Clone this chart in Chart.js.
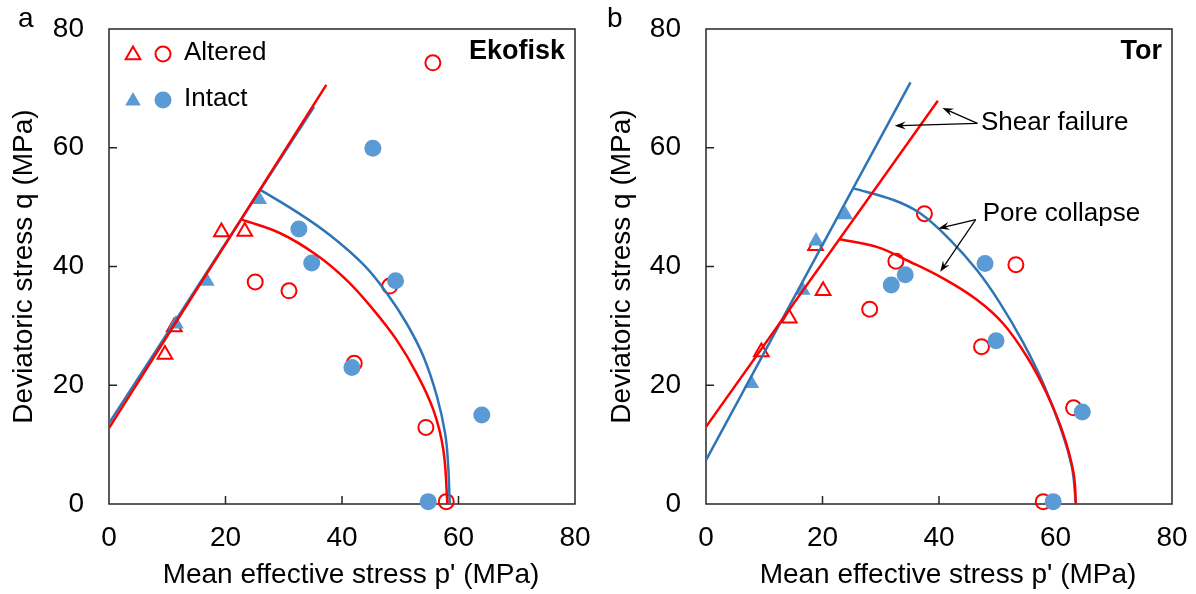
<!DOCTYPE html>
<html>
<head>
<meta charset="utf-8">
<script src="https://cdn.jsdelivr.net/npm/chart.js@4.4.0/dist/chart.umd.min.js"></script>
<style>
  body { margin: 0; background: #fff; }
  #wrap { position: relative; width: 1196px; height: 594px; }
  canvas { position: absolute; top: 0; }
</style>
</head>
<body>
<div id="wrap">
  <canvas id="ekofisk" width="598" height="594" style="left:0"></canvas>
  <canvas id="tor" width="598" height="594" style="left:598px"></canvas>
</div>
<script>
// Ekofisk chalk - mean effective stress p' / deviatoric stress q (MPa)
const ekoAltTriP = [9.6, 11.2, 19.3, 23.3];
const ekoAltTriQ = [25.2, 29.8, 45.8, 45.9];
const ekoAltCircP = [55.6, 25.1, 30.9, 48.2, 42.1, 54.4, 57.9];
const ekoAltCircQ = [74.3, 37.4, 35.9, 36.7, 23.7, 12.9, 0.4];
const ekoIntTriP = [11.5, 16.8, 25.8];
const ekoIntTriQ = [30.3, 37.5, 51.3];
const ekoIntCircP = [45.3, 32.6, 34.8, 49.2, 41.7, 64.0, 54.8];
const ekoIntCircQ = [59.9, 46.3, 40.6, 37.6, 23.0, 15.0, 0.4];
const ekoAltShearP = [0, 37.3];
const ekoAltShearQ = [12.8, 70.6];
const ekoIntShearP = [0, 35.2];
const ekoIntShearQ = [13.6, 66.9];
const ekoAltCapP = [22.8, 29.4, 35.7, 40.8, 45.4, 49.4, 52.8, 55.7, 57.4, 58.1];
const ekoAltCapQ = [47.9, 45.6, 41.9, 37.7, 32.7, 27.6, 22.0, 15.8, 9.1, 0];
const ekoIntCapP = [26.0, 32.2, 37.9, 43.7, 47.7, 51.1, 54.0, 56.3, 57.7, 58.2, 58.5];
const ekoIntCapQ = [52.9, 49.2, 45.3, 40.3, 35.5, 30.4, 24.8, 18.1, 11.9, 6.9, 0];

// Tor chalk
const torAltTriP = [9.5, 14.3, 18.8, 20.1];
const torAltTriQ = [25.6, 31.3, 43.5, 35.9];
const torAltCircP = [37.5, 32.6, 28.1, 53.2, 47.3, 63.1, 57.9];
const torAltCircQ = [48.9, 40.9, 32.8, 40.3, 26.5, 16.2, 0.4];
const torIntTriP = [7.8, 16.6, 18.9, 23.9];
const torIntTriQ = [20.3, 36.0, 44.3, 48.7];
const torIntCircP = [31.8, 34.2, 47.9, 49.8, 64.6, 59.6];
const torIntCircQ = [36.9, 38.6, 40.5, 27.5, 15.5, 0.4];
const torAltShearP = [0, 39.8];
const torAltShearQ = [13.0, 67.9];
const torIntShearP = [0, 35.1];
const torIntShearQ = [7.4, 71.0];
const torAltCapP = [23.0, 29.3, 35.0, 40.7, 46.5, 51.0, 55.1, 58.5, 61.3, 63.1, 63.5];
const torAltCapQ = [44.6, 43.3, 40.8, 38.0, 34.4, 30.4, 24.8, 18.6, 11.9, 5.2, 0];
const torIntCapP = [25.2, 32.2, 36.7, 41.9, 46.5, 50.5, 54.5, 57.9, 60.8, 62.8, 63.5];
const torIntCapQ = [53.2, 51.2, 49.0, 44.5, 39.4, 33.8, 27.1, 20.3, 13.0, 6.3, 0];

const axisTicks = [0, 20, 40, 60, 80];

const RED = '#FF0000';
const BLUE_LINE = '#2E75B6';
const BLUE_MARK = '#5B9BD5';
const FONT = "'Liberation Sans', Arial, sans-serif";

Chart.defaults.font.family = FONT;
Chart.defaults.color = '#000';

function pts(ps, qs) {
  return ps.map((p, i) => ({ x: p, y: qs[i] }));
}

function lineSet(ps, qs, color, curved) {
  return {
    data: pts(ps, qs),
    showLine: true,
    borderColor: color,
    borderWidth: 2.5,
    pointRadius: 0,
    tension: curved ? 0.4 : 0,
    fill: false
  };
}

function markSet(ps, qs, style, filled, color, radius) {
  return {
    data: pts(ps, qs),
    showLine: false,
    pointStyle: style,
    pointRadius: radius,
    pointHoverRadius: radius,
    pointBackgroundColor: filled ? color : 'rgba(0,0,0,0)',
    pointBorderColor: color,
    pointBorderWidth: filled ? 0 : 2,
    clip: false
  };
}

// first dataset is drawn on top: lines, then intact, then altered
function panelData(s) {
  return {
    datasets: [
      lineSet(s.altShearP, s.altShearQ, RED, false),
      lineSet(s.intShearP, s.intShearQ, BLUE_LINE, false),
      lineSet(s.altCapP, s.altCapQ, RED, true),
      lineSet(s.intCapP, s.intCapQ, BLUE_LINE, true),
      markSet(s.intTriP, s.intTriQ, 'triangle', true, BLUE_MARK, 9),
      markSet(s.intCircP, s.intCircQ, 'circle', true, BLUE_MARK, 8.5),
      markSet(s.altTriP, s.altTriQ, 'triangle', false, RED, 8.5),
      markSet(s.altCircP, s.altCircQ, 'circle', false, RED, 7.5)
    ]
  };
}

function panelOptions(yWidth, padRight) {
  return {
    responsive: false,
    animation: false,
    devicePixelRatio: 1,
    events: [],
    layout: { padding: { top: 29, right: padRight, left: 0, bottom: 0 } },
    plugins: { legend: { display: false }, tooltip: { enabled: false } },
    scales: {
      x: {
        type: 'linear', min: 0, max: 80,
        afterBuildTicks: (scale) => { scale.ticks = axisTicks.map(v => ({ value: v })); },
        afterFit: (scale) => {
          scale.height = 90;
          scale.paddingLeft = 0;
          scale.paddingRight = 0;
        },
        ticks: { font: { size: 28 }, color: '#000', padding: 17, maxRotation: 0, autoSkip: false },
        grid: { display: false, drawTicks: false },
        border: { display: false }
      },
      y: {
        type: 'linear', min: 0, max: 80,
        afterBuildTicks: (scale) => { scale.ticks = axisTicks.map(v => ({ value: v })); },
        afterFit: (scale) => {
          scale.width = yWidth;
          scale.paddingTop = 0;
          scale.paddingBottom = 0;
        },
        ticks: { font: { size: 28 }, color: '#000', padding: 25 },
        grid: { display: false, drawTicks: false },
        border: { display: false },
        title: {
          display: true, text: 'Deviatoric stress q (MPa)',
          font: { size: 28 }, color: '#000', padding: { top: 7, bottom: 0 }
        }
      }
    }
  };
}

// box around the plot area with short inward tick marks
const framePlugin = {
  id: 'frame',
  beforeDatasetsDraw(chart) {
    const { ctx, chartArea: a, scales } = chart;
    ctx.save();
    ctx.strokeStyle = '#262626';
    ctx.lineWidth = 1.5;
    ctx.strokeRect(a.left, a.top, a.right - a.left, a.bottom - a.top);
    ctx.beginPath();
    [20, 40, 60].forEach(v => {
      const x = scales.x.getPixelForValue(v);
      const y = scales.y.getPixelForValue(v);
      ctx.moveTo(x, a.bottom);
      ctx.lineTo(x, a.bottom - 8);
      ctx.moveTo(a.left, y);
      ctx.lineTo(a.left + 8, y);
    });
    ctx.stroke();
    ctx.restore();
  },
  afterDraw(chart) {
    const { ctx, chartArea: a } = chart;
    ctx.save();
    ctx.fillStyle = '#000';
    ctx.font = '28px ' + FONT;
    ctx.textAlign = 'center';
    ctx.textBaseline = 'alphabetic';
    ctx.fillText("Mean effective stress p' (MPa)", (a.left + a.right) / 2 + 9, 583);
    ctx.restore();
  }
};

function labelPlugin(letter, letterX, name) {
  return {
    id: 'labels',
    afterDraw(chart) {
      const { ctx, chartArea: a } = chart;
      ctx.save();
      ctx.fillStyle = '#000';
      ctx.font = '28px ' + FONT;
      ctx.textAlign = 'left';
      ctx.textBaseline = 'alphabetic';
      ctx.fillText(letter, letterX, 27);
      ctx.font = 'bold 27px ' + FONT;
      ctx.textAlign = 'right';
      ctx.textBaseline = 'middle';
      ctx.fillText(name, a.right - 10, a.top + 23);
      ctx.restore();
    }
  };
}

// two-row key: open red markers = altered, filled blue = intact
const keyPlugin = {
  id: 'key',
  afterDraw(chart) {
    const { ctx, chartArea: a } = chart;
    const rows = [
      { text: 'Altered', filled: false, color: RED, y: a.top + 25 },
      { text: 'Intact', filled: true, color: BLUE_MARK, y: a.top + 71 }
    ];
    ctx.save();
    rows.forEach(r => {
      ctx.fillStyle = r.filled ? r.color : 'rgba(0,0,0,0)';
      ctx.strokeStyle = r.color;
      ctx.lineWidth = 2;
      const bw = r.filled ? 0 : 2;
      Chart.helpers.drawPoint(ctx, { pointStyle: 'triangle', radius: r.filled ? 9 : 8.5, rotation: 0, borderWidth: bw }, a.left + 24, r.y + 1);
      Chart.helpers.drawPoint(ctx, { pointStyle: 'circle', radius: r.filled ? 8.5 : 7.5, rotation: 0, borderWidth: bw }, a.left + 54, r.y);
      ctx.fillStyle = '#000';
      ctx.font = '26px ' + FONT;
      ctx.textAlign = 'left';
      ctx.textBaseline = 'middle';
      ctx.fillText(r.text, a.left + 75, r.y - 1);
    });
    ctx.restore();
  }
};

// callouts on the Tor panel, positions in (p', q) units
const torNotes = [
  { text: 'Shear failure', p: 47.2, q: 64.2, tail: [46.6, 64.1], heads: [[32.4, 63.7], [40.6, 66.7]] },
  { text: 'Pore collapse', p: 47.5, q: 48.8, tail: [46.3, 47.9], heads: [[39.9, 46.4], [40.2, 39.1]] }
];

function drawArrow(ctx, x0, y0, x1, y1) {
  const ang = Math.atan2(y1 - y0, x1 - x0);
  const len = 11, half = 4;
  ctx.beginPath();
  ctx.moveTo(x0, y0);
  ctx.lineTo(x1 - Math.cos(ang) * 6, y1 - Math.sin(ang) * 6);
  ctx.stroke();
  ctx.beginPath();
  ctx.moveTo(x1, y1);
  ctx.lineTo(x1 - Math.cos(ang) * len - Math.sin(ang) * half, y1 - Math.sin(ang) * len + Math.cos(ang) * half);
  ctx.lineTo(x1 - Math.cos(ang) * 7, y1 - Math.sin(ang) * 7);
  ctx.lineTo(x1 - Math.cos(ang) * len + Math.sin(ang) * half, y1 - Math.sin(ang) * len - Math.cos(ang) * half);
  ctx.closePath();
  ctx.fill();
}

const notePlugin = {
  id: 'notes',
  afterDraw(chart) {
    const { ctx, scales: { x, y } } = chart;
    ctx.save();
    ctx.strokeStyle = '#000';
    ctx.fillStyle = '#000';
    ctx.lineWidth = 1.2;
    torNotes.forEach(n => {
      const tx = x.getPixelForValue(n.tail[0]);
      const ty = y.getPixelForValue(n.tail[1]);
      n.heads.forEach(h => drawArrow(ctx, tx, ty, x.getPixelForValue(h[0]), y.getPixelForValue(h[1])));
      ctx.font = '26px ' + FONT;
      ctx.textAlign = 'left';
      ctx.textBaseline = 'middle';
      ctx.fillText(n.text, x.getPixelForValue(n.p), y.getPixelForValue(n.q));
    });
    ctx.restore();
  }
};

const ekofiskChart = new Chart(document.getElementById('ekofisk'), {
  type: 'scatter',
  data: panelData({
    altTriP: ekoAltTriP, altTriQ: ekoAltTriQ, altCircP: ekoAltCircP, altCircQ: ekoAltCircQ,
    intTriP: ekoIntTriP, intTriQ: ekoIntTriQ, intCircP: ekoIntCircP, intCircQ: ekoIntCircQ,
    altShearP: ekoAltShearP, altShearQ: ekoAltShearQ, intShearP: ekoIntShearP, intShearQ: ekoIntShearQ,
    altCapP: ekoAltCapP, altCapQ: ekoAltCapQ, intCapP: ekoIntCapP, intCapQ: ekoIntCapQ
  }),
  options: panelOptions(109, 23),
  plugins: [framePlugin, labelPlugin('a', 18, 'Ekofisk'), keyPlugin]
});

const torChart = new Chart(document.getElementById('tor'), {
  type: 'scatter',
  data: panelData({
    altTriP: torAltTriP, altTriQ: torAltTriQ, altCircP: torAltCircP, altCircQ: torAltCircQ,
    intTriP: torIntTriP, intTriQ: torIntTriQ, intCircP: torIntCircP, intCircQ: torIntCircQ,
    altShearP: torAltShearP, altShearQ: torAltShearQ, intShearP: torIntShearP, intShearQ: torIntShearQ,
    altCapP: torAltCapP, altCapQ: torAltCapQ, intCapP: torIntCapP, intCapQ: torIntCapQ
  }),
  options: panelOptions(108, 24),
  plugins: [framePlugin, labelPlugin('b', 9, 'Tor'), notePlugin]
});
</script>
</body>
</html>
